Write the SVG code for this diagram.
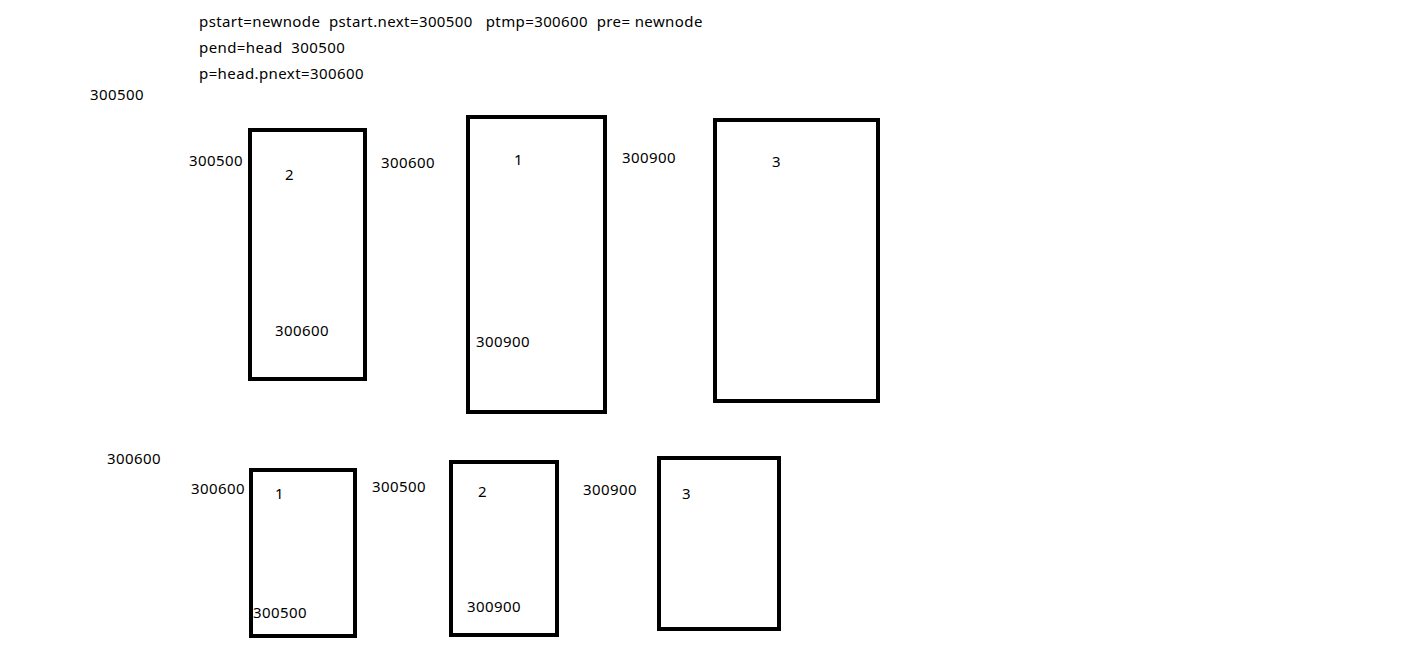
<svg xmlns="http://www.w3.org/2000/svg" width="1401" height="663" viewBox="0 0 1401 663">
<style>
text{font-family:"Noto Sans","Open Sans",sans-serif;font-size:15px;letter-spacing:0.4px;fill:#000}
.box{fill:none;stroke:#000;stroke-width:4}
</style>
<rect width="1401" height="663" fill="#fff"/>
<g id="notes">
<text x="199" y="27" xml:space="preserve">pstart=newnode  pstart.next=300500   ptmp=300600  pre= newnode</text>
<text x="199" y="53" xml:space="preserve">pend=head  300500</text>
<text x="199" y="79">p=head.pnext=300600</text>
<text x="90" y="100">300500</text>
<text x="107" y="464">300600</text>
</g>
<g id="connectors"></g>
<g id="node-top-1">
<rect class="box" x="250" y="130" width="115" height="249"/>
<text x="189" y="166">300500</text>
<text x="285" y="180">2</text>
<text x="275" y="336">300600</text>
</g>
<g id="node-top-2">
<rect class="box" x="468" y="117" width="137" height="295"/>
<text x="381" y="168">300600</text>
<text x="514" y="165">1</text>
<text x="476" y="347">300900</text>
</g>
<g id="node-top-3">
<rect class="box" x="715" y="120" width="163" height="281"/>
<text x="622" y="163">300900</text>
<text x="772" y="167">3</text>
</g>
<g id="node-bot-1">
<rect class="box" x="251" y="470" width="104" height="166"/>
<text x="191" y="494">300600</text>
<text x="275" y="499">1</text>
<text x="253" y="618">300500</text>
</g>
<g id="node-bot-2">
<rect class="box" x="451" y="462" width="106" height="173"/>
<text x="372" y="492">300500</text>
<text x="478" y="497">2</text>
<text x="467" y="612">300900</text>
</g>
<g id="node-bot-3">
<rect class="box" x="659" y="458" width="120" height="171"/>
<text x="583" y="495">300900</text>
<text x="682" y="499">3</text>
</g>
</svg>
